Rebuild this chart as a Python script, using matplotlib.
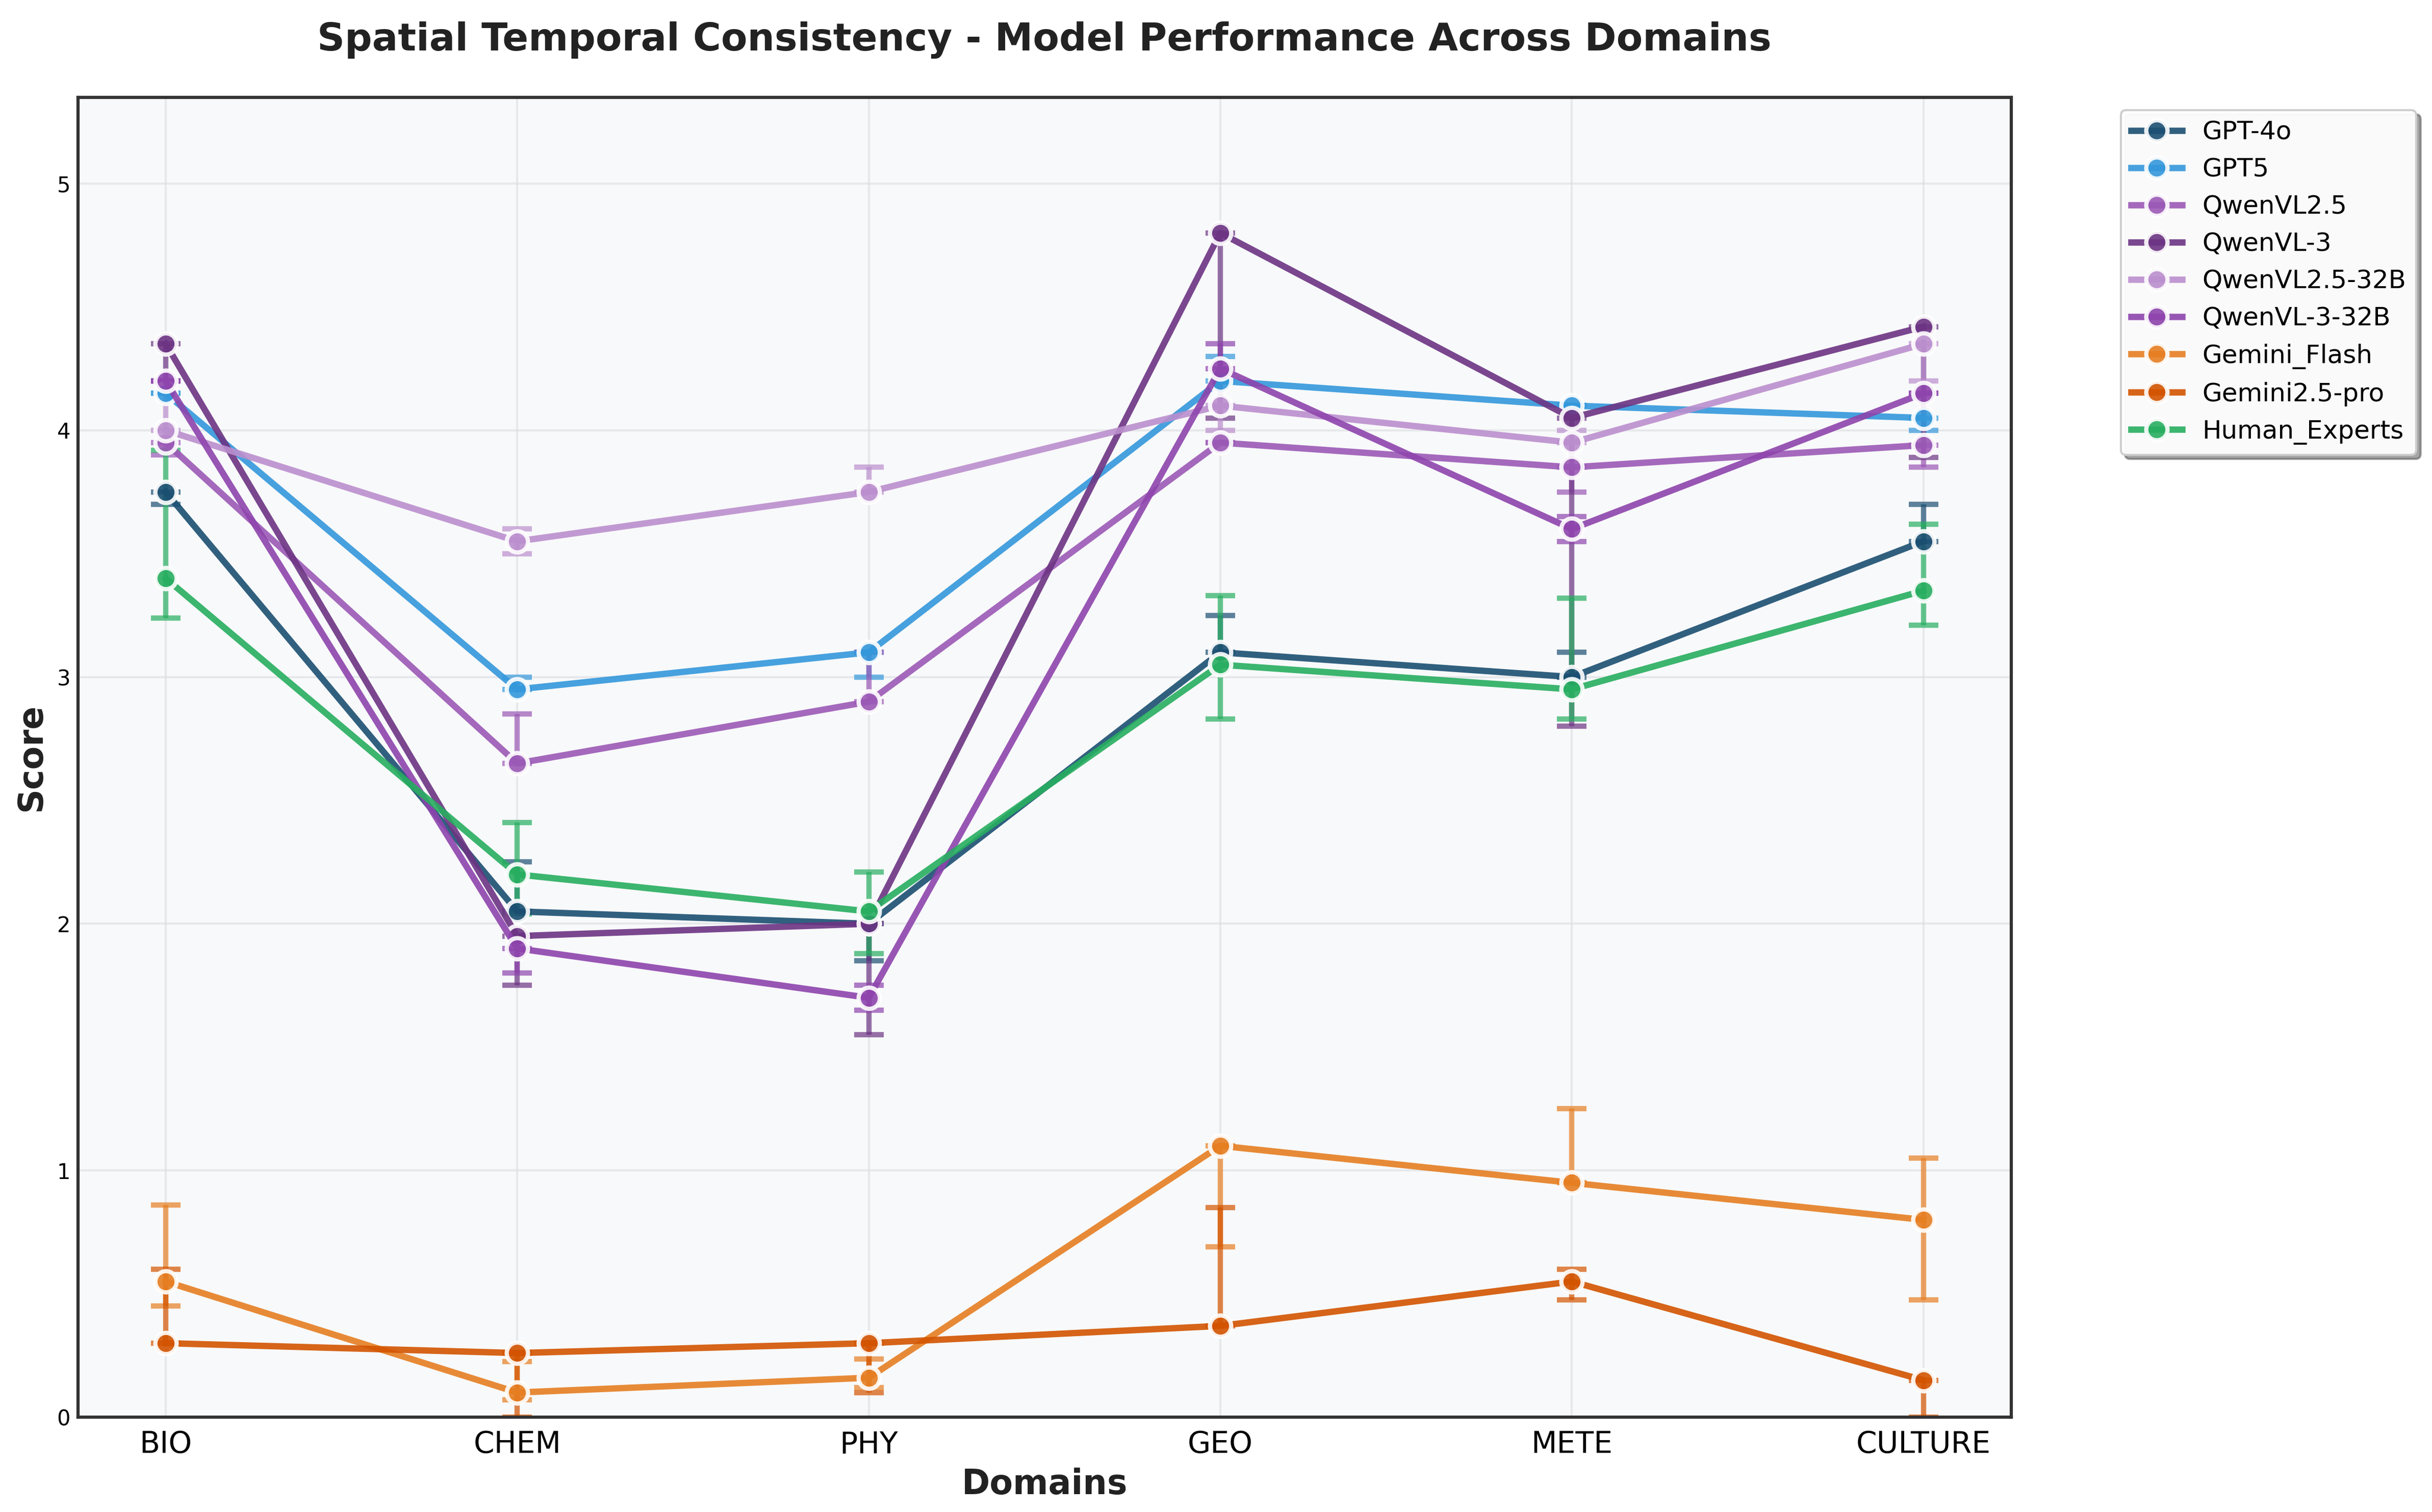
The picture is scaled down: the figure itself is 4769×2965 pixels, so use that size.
import numpy as np
import matplotlib
matplotlib.use('Agg')
from matplotlib import pyplot as plt

domains = ['BIO', 'CHEM', 'PHY', 'GEO', 'METE', 'CULTURE']

models = ['GPT-4o', 'GPT5', 'QwenVL2.5', 'QwenVL-3', 'QwenVL2.5-32B',
          'QwenVL-3-32B', 'Gemini_Flash', 'Gemini2.5-pro', 'Human_Experts']

colors = ['#1B4F72', '#3498DB', '#9B59B6', '#6C3483', '#BB8FCE',
          '#8E44AD', '#E67E22', '#D35400', '#27AE60']

# mean scores per domain
gpt4o = [3.75, 2.05, 2.00, 3.10, 3.00, 3.55]
gpt5 = [4.15, 2.95, 3.10, 4.20, 4.10, 4.05]
qwen25 = [3.95, 2.65, 2.90, 3.95, 3.85, 3.94]
qwen3 = [4.35, 1.95, 2.00, 4.80, 4.05, 4.42]
qwen25_32b = [4.00, 3.55, 3.75, 4.10, 3.95, 4.35]
qwen3_32b = [4.20, 1.90, 1.70, 4.25, 3.60, 4.15]
gemini_flash = [0.55, 0.10, 0.16, 1.10, 0.95, 0.80]
gemini_pro = [0.30, 0.26, 0.30, 0.37, 0.55, 0.15]
human = [3.40, 2.20, 2.05, 3.05, 2.95, 3.35]

# lower / upper ends of the error bars
gpt4o_lo = [3.70, 2.05, 1.85, 3.10, 3.00, 3.55]
gpt4o_hi = [3.75, 2.25, 2.00, 3.25, 3.10, 3.70]
gpt5_lo = [4.15, 2.95, 3.00, 4.20, 4.10, 4.00]
gpt5_hi = [4.15, 3.00, 3.10, 4.30, 4.10, 4.05]
qwen25_lo = [3.90, 2.65, 2.90, 3.95, 3.75, 3.85]
qwen25_hi = [3.95, 2.85, 3.10, 3.95, 3.85, 3.94]
qwen3_lo = [4.20, 1.75, 1.55, 4.05, 2.80, 3.89]
qwen3_hi = [4.35, 1.95, 2.00, 4.80, 4.05, 4.42]
qwen25_32b_lo = [4.00, 3.50, 3.75, 4.00, 3.95, 4.20]
qwen25_32b_hi = [4.20, 3.60, 3.85, 4.10, 4.00, 4.35]
qwen3_32b_lo = [4.20, 1.80, 1.65, 4.25, 3.55, 4.15]
qwen3_32b_hi = [4.20, 1.90, 1.75, 4.35, 3.65, 4.15]
gemini_flash_lo = [0.45, 0.07, 0.12, 0.69, 0.95, 0.475]
gemini_flash_hi = [0.86, 0.225, 0.235, 1.10, 1.25, 1.05]
gemini_pro_lo = [0.30, 0.00, 0.10, 0.37, 0.475, 0.00]
gemini_pro_hi = [0.60, 0.26, 0.30, 0.85, 0.60, 0.15]
human_lo = [3.24, 2.04, 1.88, 2.83, 2.83, 3.21]
human_hi = [3.92, 2.41, 2.21, 3.33, 3.32, 3.62]

means = [gpt4o, gpt5, qwen25, qwen3, qwen25_32b, qwen3_32b,
         gemini_flash, gemini_pro, human]
lows = [gpt4o_lo, gpt5_lo, qwen25_lo, qwen3_lo, qwen25_32b_lo, qwen3_32b_lo,
        gemini_flash_lo, gemini_pro_lo, human_lo]
highs = [gpt4o_hi, gpt5_hi, qwen25_hi, qwen3_hi, qwen25_32b_hi, qwen3_32b_hi,
         gemini_flash_hi, gemini_pro_hi, human_hi]

fig = plt.figure(figsize=(4769 / 300, 2965 / 300), dpi=300)
ax = fig.add_axes([0.032, 0.0627, 0.795, 0.873])
ax.set_facecolor('#f8f9fa')

x = np.arange(len(domains))
for name, col, m, lo, hi in zip(models, colors, means, lows, highs):
    m = np.array(m)
    yerr = [m - np.array(lo), np.array(hi) - m]
    ax.errorbar(x, m, yerr=yerr, fmt='none', ecolor=col, elinewidth=2.5,
                capsize=7, capthick=2.5, alpha=0.7, zorder=2)
    ax.plot(x, m, '-o', color=col, label=name, linewidth=3, markersize=10,
            markeredgecolor='white', markeredgewidth=2, alpha=0.9, zorder=3)

ax.set_xticks(x)
ax.set_xticklabels(domains, fontsize=14)
ax.set_ylim(0, 5.35)
ax.set_yticks([0, 1, 2, 3, 4, 5])
ax.tick_params(axis='y', labelsize=10, length=0)
ax.tick_params(axis='x', length=0, pad=6)
ax.grid(True, color='#dcdde1', alpha=0.6, linewidth=1)
ax.set_axisbelow(True)
for sp in ax.spines.values():
    sp.set_color('#333333')
    sp.set_linewidth(1.5)

ax.set_xlabel('Domains', fontsize=16, fontweight='bold', color='#222222')
ax.set_ylabel('Score', fontsize=16, fontweight='bold', color='#222222')
ax.set_title('Spatial Temporal Consistency - Model Performance Across Domains',
             fontsize=18, fontweight='bold', color='#222222', pad=22)

ax.legend(loc='upper left', bbox_to_anchor=(1.05, 1.0), fontsize=12,
          frameon=True, fancybox=True, shadow=True, framealpha=0.95)

fig.savefig('out.png', dpi=300)
